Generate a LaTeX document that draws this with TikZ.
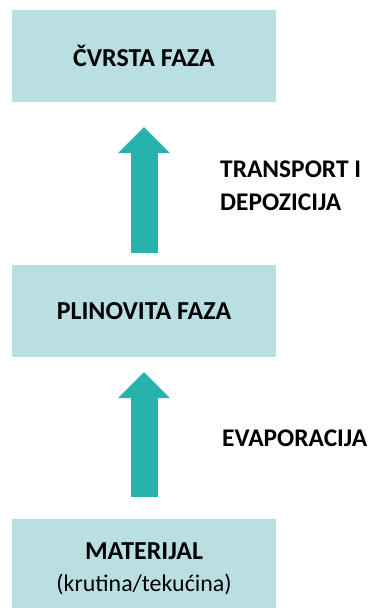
\documentclass[tikz,border=0pt]{standalone}
\usepackage{fontspec}
\setmainfont{Carlito}
\usetikzlibrary{arrows.meta,positioning}
\definecolor{boxblue}{HTML}{BADFE3}
\definecolor{arrowteal}{HTML}{28B2AE}
\tikzset{
  phasebox/.style={fill=boxblue, minimum width=264bp, minimum height=92bp, inner sep=0pt,
    font=\bfseries\fontsize{26}{28}\selectfont, align=center},
  blockarrow/.style={draw=arrowteal, line width=27bp,
    -{Triangle[width=52bp,length=26bp,line width=0pt]}},
  steplabel/.style={anchor=west, inner sep=0pt, align=left,
    font=\bfseries\fontsize{25.5}{33}\selectfont}
}

\begin{document}
\begin{tikzpicture}[x=1bp,y=-1bp]
\useasboundingbox (0,0) rectangle (372,608);
% faze
\node[phasebox] (cvrsta) at (144,56) {ČVRSTA FAZA};
\node[phasebox] (plinovita) at (144,311) {PLINOVITA FAZA};
\node[phasebox, minimum height=89bp] (materijal) at (144,563.5) {};
\node[font=\bfseries\fontsize{26}{28}\selectfont, align=center] (materijaltxt)
  at ([yshift=-5bp]materijal.center)
  {MATERIJAL\\[4bp]{\mdseries\fontsize{24}{28}\selectfont (krutina/tekućina)}};
% prijelazi
\draw[blockarrow, shorten <=12bp, shorten >=25bp] (plinovita) -- (cvrsta);
\draw[blockarrow, shorten <=22bp, shorten >=15bp] (materijal) -- (plinovita);
\node[steplabel] (transport) at (220,186) {TRANSPORT I\\DEPOZICIJA};
\node[steplabel] (evaporacija) at (222,438) {EVAPORACIJA};
\end{tikzpicture}
\end{document}
